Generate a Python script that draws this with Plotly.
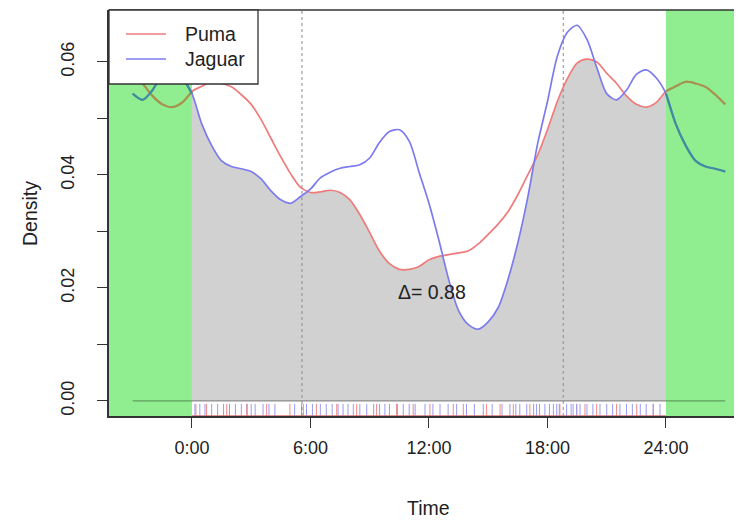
import plotly.graph_objects as go
import numpy as np

# ---- data ----
hours = [i * 0.5 for i in range(49)]  # 0 .. 24
puma = [0.0548, 0.0557, 0.0565, 0.0562, 0.0556, 0.0542, 0.0525, 0.0498, 0.0465, 0.0432,
        0.0402, 0.0378, 0.0369, 0.0370, 0.0373, 0.0369, 0.0356, 0.0330, 0.0298, 0.0265,
        0.0243, 0.0233, 0.0233, 0.0238, 0.0250, 0.0256, 0.0259, 0.0262, 0.0266, 0.0278,
        0.0295, 0.0313, 0.0335, 0.0365, 0.0400, 0.0435, 0.0480, 0.0530, 0.0570, 0.0598,
        0.0605, 0.0600, 0.0580, 0.0562, 0.0540, 0.0525, 0.0520, 0.0528, 0.0548]
jaguar = [0.0544, 0.0490, 0.0452, 0.0425, 0.0415, 0.0411, 0.0406, 0.0393, 0.0372, 0.0356,
          0.0350, 0.0362, 0.0375, 0.0395, 0.0405, 0.0412, 0.0415, 0.0418, 0.0430, 0.0458,
          0.0477, 0.0480, 0.0460, 0.0405, 0.0350, 0.0285, 0.0215, 0.0160, 0.0135, 0.0127,
          0.0140, 0.0165, 0.0215, 0.0280, 0.0360, 0.0455, 0.0530, 0.0610, 0.0652, 0.0665,
          0.0640, 0.0590, 0.0544, 0.0533, 0.0550, 0.0578, 0.0586, 0.0572, 0.0544]
puma_times = [0.2, 0.74, 1.76, 2.77, 3.78, 4.96, 5.64, 6.3, 7.33, 8.34, 9.35, 10.36, 11.2,
              12.05, 13.23, 13.74, 14.92, 15.6, 16.27, 17.11, 18.63, 19.48, 19.9, 20.49,
              21.5, 22.52, 23.36]
jaguar_times = [0.15, 0.4, 0.66, 1.0, 1.3, 1.6, 1.9, 2.2, 2.5, 2.8, 3.0, 3.2, 3.6, 3.9, 4.2,
                5.2, 5.55, 5.8, 6.1, 6.5, 6.8, 7.1, 7.4, 7.65, 7.9, 8.17, 8.5, 8.85, 9.2,
                9.5, 9.77, 10.0, 10.4, 10.7, 11.0, 11.3, 11.8, 12.2, 12.56, 12.97, 13.4,
                13.9, 14.3, 14.75, 15.2, 15.7, 16.1, 16.4, 16.6, 16.95, 17.3, 17.45, 17.6,
                17.87, 18.1, 18.3, 18.47, 18.6, 18.97, 19.2, 19.3, 19.48, 19.65, 20.0, 20.3,
                20.66, 21.0, 21.3, 21.67, 22.0, 22.3, 22.7, 23.0, 23.35, 23.7]
sun_times = [5.57, 18.8]
tick_hours = [0, 6, 12, 18, 24]
tick_labels = ["0:00", "6:00", "12:00", "18:00", "24:00"]
y_ticks = [0.00, 0.01, 0.02, 0.03, 0.04, 0.05, 0.06]
y_labels = ["0.00", "", "0.02", "", "0.04", "", "0.06"]
overlap_text = "Δ= 0.88"
species = ["Puma", "Jaguar"]

# ---- styles ----
RED = "#ef7b7b"
BLUE = "#7b7bef"
RED_EXT = "#a3944f"
BLUE_EXT = "#3f8c9e"
GREEN = "#90ee90"
GRAY = "#d1d1d1"
AX = "#333333"
FONT = "Liberation Sans, Arial, sans-serif"
FS = 19.5
FS_TICK = 18

X0, X1 = -4.2, 27.85
Y0, Y1 = -0.00266, 0.0692

# page body has an 8px margin: screen coords -> figure coords
OFF = 8
SCR_L, SCR_R, SCR_T, SCR_B = 109, 742, 10, 416

h = np.array(hours)
p = np.array(puma)
j = np.array(jaguar)
# circular extension (-3 .. 27)
ext_lo = (h >= 21)
ext_hi = (h <= 3)
hx = np.concatenate([h[ext_lo][:-1] - 24, h, h[ext_hi][1:] + 24])
px = np.concatenate([p[ext_lo][:-1], p, p[ext_hi][1:]])
jx = np.concatenate([j[ext_lo][:-1], j, j[ext_hi][1:]])

fig = go.Figure()

# gray overlap area: under puma, then whiten above jaguar => region under min
fig.add_trace(go.Scatter(x=h, y=p, mode="lines", line=dict(width=0, shape="spline", smoothing=0.8),
                         fill="tozeroy", fillcolor=GRAY, hoverinfo="skip", showlegend=False))
fig.add_trace(go.Scatter(x=[0, 24], y=[Y1, Y1], mode="lines", line=dict(width=0),
                         hoverinfo="skip", showlegend=False))
fig.add_trace(go.Scatter(x=h, y=j, mode="lines", line=dict(width=0, shape="spline", smoothing=0.8),
                         fill="tonexty", fillcolor="white", hoverinfo="skip", showlegend=False))

# baseline at zero
fig.add_trace(go.Scatter(x=[0, 24], y=[0, 0], mode="lines",
                         line=dict(color="#8a8a8a", width=1.2), hoverinfo="skip", showlegend=False))
for a, b in ((hx[0], 0), (24, hx[-1])):
    fig.add_trace(go.Scatter(x=[a, b], y=[0, 0], mode="lines",
                             line=dict(color="#5f9f5f", width=1.2), hoverinfo="skip", showlegend=False))

# rugs
def rug(times):
    xs, ys = [], []
    L = (Y1 - Y0) * 0.03
    for t in times:
        xs += [t, t, None]
        ys += [Y0, Y0 + L, None]
    return xs, ys

rx, ry = rug(puma_times)
fig.add_trace(go.Scatter(x=rx, y=ry, mode="lines", line=dict(color="#f08a8a", width=1),
                         hoverinfo="skip", showlegend=False))
bx, by = rug(jaguar_times)
fig.add_trace(go.Scatter(x=bx, y=by, mode="lines", line=dict(color="#9a9af5", width=1),
                         hoverinfo="skip", showlegend=False))
fig.add_trace(go.Scatter(x=[0, 24], y=[Y0, Y0], mode="lines", line=dict(color="#d87070", width=1.5),
                         hoverinfo="skip", showlegend=False))

# density curves
fig.add_trace(go.Scatter(x=hx, y=px, mode="lines", name=species[0],
                         line=dict(color=RED, width=1.7, shape="spline", smoothing=0.8), showlegend=False))
fig.add_trace(go.Scatter(x=hx, y=jx, mode="lines", name=species[1],
                         line=dict(color=BLUE, width=1.7, shape="spline", smoothing=0.8), showlegend=False))

# extension parts over the green areas
lo = hx <= 0.0
hi = hx >= 24.0
for mask in (lo, hi):
    fig.add_trace(go.Scatter(x=hx[mask], y=px[mask], mode="lines",
                             line=dict(color=RED_EXT, width=2.2, shape="spline", smoothing=0.8),
                             hoverinfo="skip", showlegend=False))
    fig.add_trace(go.Scatter(x=hx[mask], y=jx[mask], mode="lines",
                             line=dict(color=BLUE_EXT, width=2.2, shape="spline", smoothing=0.8),
                             hoverinfo="skip", showlegend=False))

shapes = []
shapes.append(dict(type="rect", xref="x", yref="paper", x0=X0, x1=0, y0=0, y1=1,
                   fillcolor=GREEN, line=dict(width=0), layer="below"))
shapes.append(dict(type="rect", xref="x", yref="paper", x0=24, x1=X1, y0=0, y1=1,
                   fillcolor=GREEN, line=dict(width=0), layer="below"))
for t in sun_times:
    shapes.append(dict(type="line", xref="x", yref="paper", x0=t, x1=t, y0=0, y1=1,
                       line=dict(color="#8c8c8c", width=1, dash="dot"), layer="above"))
shapes.append(dict(type="line", xref="paper", yref="paper", x0=0, x1=1.02, y0=1, y1=1,
                   line=dict(color=AX, width=1.5), layer="above"))

PW, PH = float(SCR_R - SCR_L), float(SCR_B - SCR_T)
def pxx(v):
    return (v - SCR_L) / PW
def pyy(v):
    return (SCR_B - v) / PH
shapes.append(dict(type="rect", xref="paper", yref="paper", x0=pxx(109), x1=pxx(258),
                   y0=pyy(84), y1=pyy(10), fillcolor="white", line=dict(color=AX, width=1.3),
                   layer="above"))
annotations = []
for name, col, yy in ((species[0], RED, 34), (species[1], BLUE, 59)):
    shapes.append(dict(type="line", xref="paper", yref="paper", x0=pxx(126), x1=pxx(166),
                       y0=pyy(yy), y1=pyy(yy), line=dict(color=col, width=1.7), layer="above"))
    annotations.append(dict(xref="paper", yref="paper", x=pxx(183), y=pyy(yy), text=name,
                            showarrow=False, xanchor="left", yanchor="middle",
                            font=dict(family=FONT, size=FS, color="#222")))

annotations.append(dict(xref="x", yref="y", x=12.15, y=0.0193, text=overlap_text, showarrow=False,
                        font=dict(family=FONT, size=FS, color="#222")))
annotations.append(dict(xref="x", yref="paper", x=12, y=pyy(508), text="Time", showarrow=False,
                        yanchor="middle", font=dict(family=FONT, size=FS, color="#222")))
annotations.append(dict(xref="paper", yref="paper", x=pxx(30), y=pyy(214), text="Density",
                        showarrow=False, textangle=-90, xanchor="center", yanchor="middle",
                        font=dict(family=FONT, size=FS, color="#222")))

W, H = 742 - OFF, 528 - OFF
fig.update_layout(
    width=W, height=H,
    margin=dict(l=SCR_L - OFF, r=0, t=SCR_T - OFF, b=H - (SCR_B - OFF), autoexpand=False),
    paper_bgcolor="white", plot_bgcolor="white",
    shapes=shapes, annotations=annotations,
    showlegend=False,
    font=dict(family=FONT, size=FS, color="#222"),
    xaxis=dict(range=[X0, X1], tickmode="array", tickvals=tick_hours, ticktext=tick_labels,
               ticks="outside", ticklen=10, tickcolor=AX, tickwidth=1.2, automargin=False,
               showline=True, linecolor=AX, linewidth=1.5, showgrid=False, zeroline=False,
               ticklabelstandoff=5, tickfont=dict(family=FONT, size=FS_TICK, color="#222")),
    yaxis=dict(range=[Y0, Y1], tickmode="array", tickvals=y_ticks, ticktext=y_labels,
               ticks="outside", ticklen=10, tickcolor=AX, tickwidth=1.2, tickangle=-90,
               automargin=False,
               showline=True, linecolor=AX, linewidth=1.5, showgrid=False, zeroline=False,
               ticklabelstandoff=16, tickfont=dict(family=FONT, size=FS_TICK, color="#222")),
)

fig.write_html("out.html")
